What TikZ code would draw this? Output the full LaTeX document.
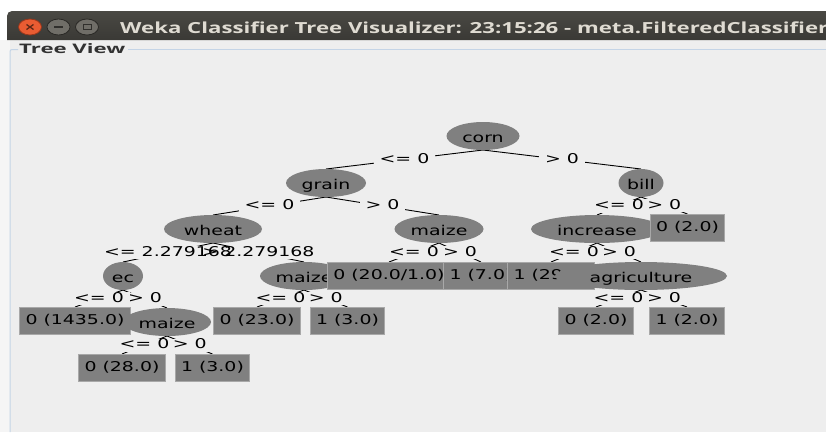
\documentclass[tikz,border=0pt]{standalone}
\usepackage{fontspec}
\usetikzlibrary{shapes.geometric}
\newfontfamily\wk[FakeStretch=1.4]{DejaVu Sans}
\newfontfamily\chromefont{Open Sans}
\newcommand\treefont{\wk\fontsize{13.5pt}{16pt}\selectfont}
\definecolor{panelbg}{RGB}{238,238,238}
\definecolor{panelstrip}{RGB}{245,245,245}
\definecolor{nodegray}{RGB}{128,128,128}
\definecolor{boxedge}{RGB}{168,168,168}
\definecolor{barbg}{RGB}{58,57,53}
\definecolor{bartop}{RGB}{74,73,68}
\definecolor{bartext}{RGB}{223,219,210}
\definecolor{bordline}{RGB}{196,212,230}
\definecolor{closefill}{RGB}{232,92,50}
\definecolor{closeedge}{RGB}{150,55,28}
\definecolor{closemark}{RGB}{95,40,22}
\definecolor{btnfill}{RGB}{112,110,104}
\definecolor{btnedge}{RGB}{42,41,38}
\definecolor{btnmark}{RGB}{48,47,44}
\definecolor{headtext}{RGB}{50,50,50}
\pgfdeclarelayer{chrome}
\pgfdeclarelayer{edges}
\pgfdeclarelayer{labelbg}
\pgfsetlayers{chrome,edges,labelbg,main}
\begin{document}
\begin{tikzpicture}[x=1pt,y=-1pt,
  split/.style={ellipse,fill=nodegray,inner sep=0pt,outer sep=0pt,
    minimum height=28pt,text height=12.5pt,text depth=0.5pt,font=\treefont},
  leaf/.style={rectangle,fill=nodegray,draw=boxedge,line width=1pt,
    inner xsep=6pt,inner ysep=0pt,outer sep=0pt,minimum height=27pt,
    text height=10pt,text depth=3pt,font=\treefont},
  edgelabel/.style={inner xsep=6pt,inner ysep=0pt,outer sep=0pt,
    text height=10pt,text depth=3pt,font=\treefont},
  edgeline/.style={line width=0.9pt,black}]
\useasboundingbox (0,0) rectangle (826,432);

% window frame, title bar and titled border
\begin{pgfonlayer}{chrome}
  \fill[white] (0,0) rectangle (826,432);
  \fill[panelbg] (0,40) rectangle (826,432);
  \fill[panelstrip] (0,40) rectangle (9.5,432);
  \shade[top color=bartop,bottom color=barbg]
    (7,40) -- (7,16) arc[start angle=180,end angle=270,radius=5] -- (826,11) -- (826,40) -- cycle;
  % close / minimise / maximise buttons
  \filldraw[fill=closefill,draw=closeedge,line width=0.8pt] (30,27) ellipse[x radius=11.5,y radius=8];
  \draw[closemark,line width=1.3pt] (26.5,24.5) -- (33.5,29.5) (26.5,29.5) -- (33.5,24.5);
  \filldraw[fill=btnfill,draw=btnedge,line width=0.8pt] (58.5,27) ellipse[x radius=11.5,y radius=8];
  \draw[btnmark,line width=1.5pt] (54,27) -- (63,27);
  \filldraw[fill=btnfill,draw=btnedge,line width=0.8pt] (87,27) ellipse[x radius=11.5,y radius=8];
  \draw[btnmark,line width=1pt] (83,24.5) rectangle (91,29.5);
  \node[anchor=base west,inner sep=0pt,text=bartext] (title) at (120,33)
    {\resizebox{708pt}{11.7pt}{\chromefont\bfseries Weka Classifier Tree Visualizer: 23:15:26 - meta.FilteredClassifier}};
  \draw[bordline,line width=1pt,rounded corners=2pt] (18,49.5) -- (10,49.5) -- (10,432);
  \draw[bordline,line width=1pt] (128,49.5) -- (826,49.5);
  \node[anchor=base west,inner sep=0pt,text=headtext] (viewtitle) at (19,53.5)
    {\resizebox{106pt}{10pt}{\chromefont\bfseries Tree View}};
\end{pgfonlayer}

% tree nodes, in preorder
\node[split,minimum width=73pt] (corn) at (483,136) {corn};
\node[split,minimum width=80pt] (grain) at (326,183) {grain};
\node[split,minimum width=98pt] (wheat) at (213,229) {wheat};
\node[split,minimum width=40pt] (ec) at (123,276) {ec};
\node[leaf] (l1435) at (75,320.5) {0 (1435.0)};
\node[split,minimum width=88pt] (maize3) at (167,322) {maize};
\node[leaf] (l28) at (122,367.5) {0 (28.0)};
\node[leaf] (l3b) at (212.5,367.5) {1 (3.0)};
\node[split,minimum width=88pt] (maize2) at (304,276) {maize};
\node[leaf] (l23) at (257,320.5) {0 (23.0)};
\node[leaf] (l3a) at (347.5,320.5) {1 (3.0)};
\node[split,minimum width=89pt] (maize1) at (439,229) {maize};
\node[leaf] (l20) at (389,275.5) {0 (20.0/1.0)};
\node[leaf] (l7) at (481,275.5) {1 (7.0)};
\node[split,minimum width=45pt] (bill) at (641,183) {bill};
\node[split,minimum width=132pt] (increase) at (597,229) {increase};
\node[leaf] (l29) at (551,275.5) {1 (29.0)};
\node[split,minimum width=172pt] (agri) at (641,276) {agriculture};
\node[leaf] (l2a) at (596,320.5) {0 (2.0)};
\node[leaf] (l2b) at (687,320.5) {1 (2.0)};
\node[leaf] (l2c) at (687.5,227.5) {0 (2.0)};

% edges with their split labels
\foreach \p/\c/\lab in {corn/grain/{<= 0}, corn/bill/{> 0},
    grain/wheat/{<= 0}, grain/maize1/{> 0},
    wheat/ec/{<= 2.279168}, wheat/maize2/{> 2.279168},
    ec/l1435/{<= 0}, ec/maize3/{> 0},
    maize3/l28/{<= 0}, maize3/l3b/{> 0},
    maize2/l23/{<= 0}, maize2/l3a/{> 0},
    maize1/l20/{<= 0}, maize1/l7/{> 0},
    bill/increase/{<= 0}, bill/l2c/{> 0},
    increase/l29/{<= 0}, increase/agri/{> 0},
    agri/l2a/{<= 0}, agri/l2b/{> 0}}{
  \begin{pgfonlayer}{edges}
    \draw[edgeline] (\p.south) -- (\c.north) coordinate[pos=0.5] (mid-\p-\c);
  \end{pgfonlayer}
  \begin{pgfonlayer}{labelbg}
    \node[edgelabel,fill=panelbg] at (mid-\p-\c) {\phantom{\lab}};
  \end{pgfonlayer}
  \node[edgelabel] (lab-\p-\c) at (mid-\p-\c) {\lab};
}
\end{tikzpicture}
\end{document}
